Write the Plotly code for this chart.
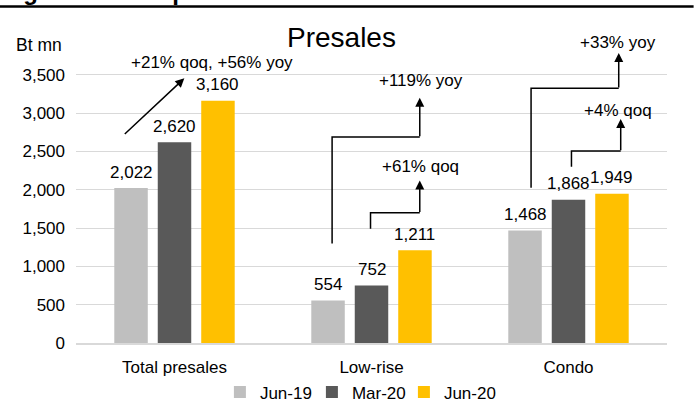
import plotly.graph_objects as go

# Presales by segment (Bt mn)
categories = ["Total presales", "Low-rise", "Condo"]
periods = ["Jun-19", "Mar-20", "Jun-20"]
jun19 = [2022, 554, 1468]
mar20 = [2620, 752, 1868]
jun20 = [3160, 1211, 1949]
colors = ["#BFBFBF", "#595959", "#FFC000"]

y_ticks = [0, 500, 1000, 1500, 2000, 2500, 3000, 3500]
Y_MAX = 3850

# Growth call-outs: label, elbow path (category index, value) and label anchor
total_note = {"text": "+21% qoq, +56% yoy", "tail": (-0.26, 2710), "tip": (0.05, 3455), "label": (0.19, 3665)}
elbow_notes = [
    {"text": "+119% yoy", "path": [(0.80, 1300), (0.80, 2690), (1.245, 2690)], "tip": 3200, "label": (1.25, 3420)},
    {"text": "+61% qoq", "path": [(0.995, 1490), (0.995, 1700), (1.245, 1700)], "tip": 2120, "label": (1.25, 2300)},
    {"text": "+33% yoy", "path": [(1.81, 2025), (1.81, 3325), (2.255, 3325)], "tip": 3785, "label": (2.25, 3925)},
    {"text": "+4% qoq", "path": [(2.015, 2300), (2.015, 2505), (2.265, 2505)], "tip": 2925, "label": (2.25, 3040)},
]

FONT = "Liberation Sans, Arial, sans-serif"
FS = 17
BARGAP = 0.338
x_idx = list(range(len(categories)))
slot = (1 - BARGAP) / len(periods)


def note_label(text, pos):
    # labels are placed in paper units vertically so they may sit above the axis range
    return dict(x=pos[0], y=pos[1] / Y_MAX, xref="x", yref="paper", yanchor="middle", xanchor="center",
                text=text, showarrow=False, font=dict(size=FS, color="#000000", family=FONT))


fig = go.Figure()
annotations = []
for k, (name, vals, col) in enumerate(zip(periods, [jun19, mar20, jun20], colors)):
    fig.add_trace(go.Bar(
        x=x_idx, y=vals, name=name, marker=dict(color=col, line_width=0),
    ))
    # value labels above each bar
    off = (k - (len(periods) - 1) / 2) * slot
    for i, v in zip(x_idx, vals):
        annotations.append(dict(
            x=i + off, y=v, xref="x", yref="y", text=f"{v:,}", showarrow=False,
            xanchor="center", yanchor="middle", yshift=16,
            font=dict(size=FS, color="#000000", family=FONT),
        ))

# diagonal arrow for total presales
annotations.append(dict(
    x=total_note["tip"][0], y=total_note["tip"][1], ax=total_note["tail"][0], ay=total_note["tail"][1],
    xref="x", yref="y", axref="x", ayref="y", text="", showarrow=True,
    arrowhead=2, arrowsize=1.2, arrowwidth=1.5, arrowcolor="#000000",
))
annotations.append(note_label(total_note["text"], total_note["label"]))

for note in elbow_notes:
    xs = [p[0] for p in note["path"]]
    ys = [p[1] for p in note["path"]]
    fig.add_trace(go.Scatter(
        x=xs, y=ys, mode="lines", line=dict(color="#000000", width=1.5),
        showlegend=False, hoverinfo="skip", cliponaxis=False,
    ))
    end_x, end_y = note["path"][-1]
    annotations.append(dict(
        x=end_x, y=note["tip"], ax=end_x, ay=end_y - 10,
        xref="x", yref="y", axref="x", ayref="y", text="", showarrow=True,
        arrowhead=2, arrowsize=1.2, arrowwidth=1.5, arrowcolor="#000000",
    ))
    annotations.append(note_label(note["text"], note["label"]))

# chart title, unit label and figure heading
annotations.append(dict(x=0.45, y=1.034, xref="paper", yref="paper", text="Presales", showarrow=False,
                        font=dict(size=28, color="#000000", family=FONT), xanchor="center", yanchor="middle"))
annotations.append(dict(x=-0.063, y=1.01, xref="paper", yref="paper", text="Bt mn", showarrow=False,
                        font=dict(size=17.5, color="#000000", family=FONT), xanchor="center", yanchor="middle"))
annotations.append(dict(x=-0.128, y=1.19, xref="paper", yref="paper", text="<b>Figure 3: Total presales</b>",
                        showarrow=False, xanchor="left", yanchor="middle",
                        font=dict(size=24, color="#000000", family=FONT)))

fig.update_layout(
    width=696, height=403,
    margin=dict(l=76, r=29, t=48, b=60, autoexpand=False),
    paper_bgcolor="#FFFFFF", plot_bgcolor="#FFFFFF",
    barmode="group", bargap=BARGAP, bargroupgap=0.23,
    font=dict(family=FONT, size=FS, color="#000000"),
    showlegend=True,
    legend=dict(orientation="h", x=0.477, y=-0.168, xanchor="center", yanchor="middle",
                font=dict(size=FS, color="#000000", family=FONT), traceorder="normal",
                itemwidth=30, entrywidth=47, entrywidthmode="pixels"),
    annotations=annotations,
    shapes=[dict(type="line", xref="paper", yref="paper", x0=-0.13, x1=1.045, y0=1.1404, y1=1.1404,
                 line=dict(color="#000000", width=2.5))],
)
fig.update_xaxes(
    range=[-0.5, 2.5], tickvals=x_idx, ticktext=categories, showgrid=False,
    showline=True, linecolor="#D9D9D9", linewidth=1.5, ticks="", zeroline=False,
    ticklabelstandoff=8, tickfont=dict(size=FS, color="#000000", family=FONT),
)
fig.update_yaxes(
    range=[0, Y_MAX], tickvals=y_ticks, ticktext=[f"{v:,}" for v in y_ticks],
    showgrid=True, gridcolor="#D9D9D9", gridwidth=1, zeroline=False, showline=False,
    ticks="", ticklabelstandoff=10, tickfont=dict(size=FS, color="#000000", family=FONT),
)

fig.write_html("out.html")
